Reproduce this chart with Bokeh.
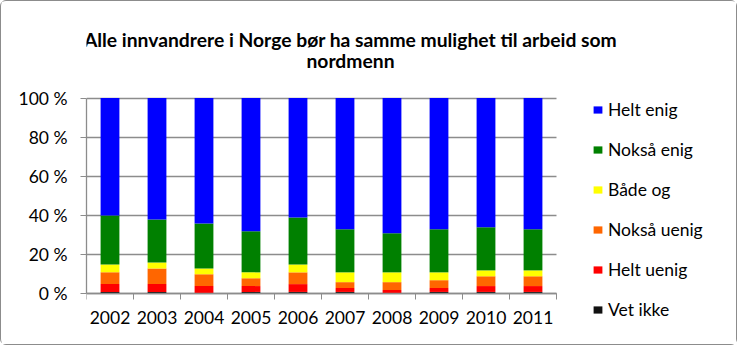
from bokeh.plotting import figure
from bokeh.models import (FixedTicker, Legend, LegendItem, Label, ColumnDataSource, Range1d, Grid)
from bokeh.embed import file_html
from bokeh.resources import INLINE

years = ["2002", "2003", "2004", "2005", "2006", "2007", "2008", "2009", "2010", "2011"]
vet_ikke    = [1, 1, 0.2, 1, 1, 1, 0.2, 1, 1, 1]
helt_uenig  = [4, 4, 3.8, 3, 4, 2, 1.8, 2, 3, 3]
noksa_uenig = [6, 8, 6, 4, 6, 3, 4, 4, 5, 5]
bade_og     = [4, 3, 3, 3, 4, 5, 5, 4, 3, 3]
noksa_enig  = [25, 22, 23, 21, 24, 22, 20, 22, 22, 21]
helt_enig   = [60, 62, 64, 68, 61, 67, 69, 67, 66, 67]

series_names = ["Vet ikke", "Helt uenig", "Nokså uenig", "Både og", "Nokså enig", "Helt enig"]
series_colors = ["#111111", "#FF0000", "#FF6600", "#FFFF00", "#008000", "#0000FF"]
y_ticks = [0, 20, 40, 60, 80, 100]
y_tick_labels = ["0 %", "20 %", "40 %", "60 %", "80 %", "100 %"]
title_lines = ["Alle innvandrere i Norge bør ha samme mulighet til arbeid som", "nordmenn"]

FONT = "Lato"
GRAY = "#8c8c8c"
W, H = 737, 345
BL = 85                  # left border (px)
PX_PER_X = 47.0          # px per category
Y0 = 292.4               # canvas y of 0 %
PX_PER_Y = 1.959         # px per percent

n = len(years)
xpos = [i + 0.5 for i in range(n)]
data = {"x": xpos, "Vet ikke": vet_ikke, "Helt uenig": helt_uenig, "Nokså uenig": noksa_uenig,
        "Både og": bade_og, "Nokså enig": noksa_enig, "Helt enig": helt_enig}
src = ColumnDataSource(data)

# The frame covers the whole area right of the y axis so that the title and
# legend (drawn inside the frame) are not clipped; the x axis sits at y = 0.
x_end = (W - BL) / PX_PER_X
y_end = Y0 / PX_PER_Y
y_start = -(H - Y0) / PX_PER_Y
p = figure(width=W, height=H, output_backend="svg", toolbar_location=None,
           x_range=Range1d(0, x_end), y_range=Range1d(y_start, y_end),
           min_border_left=BL, min_border_right=0, min_border_top=0, min_border_bottom=0)
p.outline_line_color = None
p.background_fill_color = "white"
p.border_fill_color = "white"
p.styles = {"border": "1px solid #8c8c8c", "border-radius": "6px"}

# grid
p.xgrid.grid_line_color = None
if "cross_bounds" in Grid.properties():
    p.ygrid.ticker = FixedTicker(ticks=y_ticks)
    p.ygrid.grid_line_color = GRAY
    p.ygrid.grid_line_width = 1.3
    p.ygrid.cross_bounds = (0, n)
else:
    p.ygrid.grid_line_color = None
    p.segment(x0=[0] * len(y_ticks), x1=[n] * len(y_ticks), y0=y_ticks, y1=y_ticks,
              line_color=GRAY, line_width=1.3)

rs = p.vbar_stack(series_names, x="x", width=0.4, source=src, color=series_colors, line_color=None)

# axes
xa = p.xaxis[0]
xa.fixed_location = 0
xa.bounds = (0, n)
xa.ticker = FixedTicker(ticks=xpos, minor_ticks=list(range(n + 1)))
xa.major_label_overrides = {x: y for x, y in zip(xpos, years)}
xa.major_tick_out = 0
xa.major_tick_in = 0
xa.minor_tick_out = 6
xa.minor_tick_in = 0
xa.minor_tick_line_color = GRAY
xa.axis_line_color = GRAY
xa.axis_line_width = 1.3
xa.major_label_standoff = 11
xa.major_label_text_font = FONT
xa.major_label_text_font_size = "17.5px"
xa.major_label_text_color = "black"

ya = p.yaxis[0]
ya.bounds = (0, 100)
ya.ticker = FixedTicker(ticks=y_ticks, minor_ticks=[])
ya.major_label_overrides = {t: l for t, l in zip(y_ticks, y_tick_labels)}
ya.major_tick_out = 6
ya.major_tick_in = 0
ya.major_tick_line_color = GRAY
ya.axis_line_color = GRAY
ya.axis_line_width = 1.3
ya.major_label_standoff = 13
ya.major_label_text_font = FONT
ya.major_label_text_font_size = "17.5px"
ya.major_label_text_color = "black"

# legend
items = [LegendItem(label=nm, renderers=[r]) for nm, r in zip(series_names, rs)][::-1]
legend = Legend(items=items, location=(506, 26), padding=0, margin=0,
                glyph_width=11, glyph_height=9, label_standoff=5, spacing=18, label_height=22,
                label_text_font=FONT, label_text_font_size="17.5px", label_text_color="black",
                border_line_color=None, background_fill_alpha=0)
p.add_layout(legend, "center")

# title
for txt, yy in zip(title_lines, [130.1, 118.9]):
    p.add_layout(Label(x=5.617, y=yy, text=txt,
                       text_align="center", text_baseline="alphabetic", text_font=FONT,
                       text_font_style="bold", text_font_size="19.3px", text_color="black"))

open("out.html", "w").write(file_html(p, INLINE))
